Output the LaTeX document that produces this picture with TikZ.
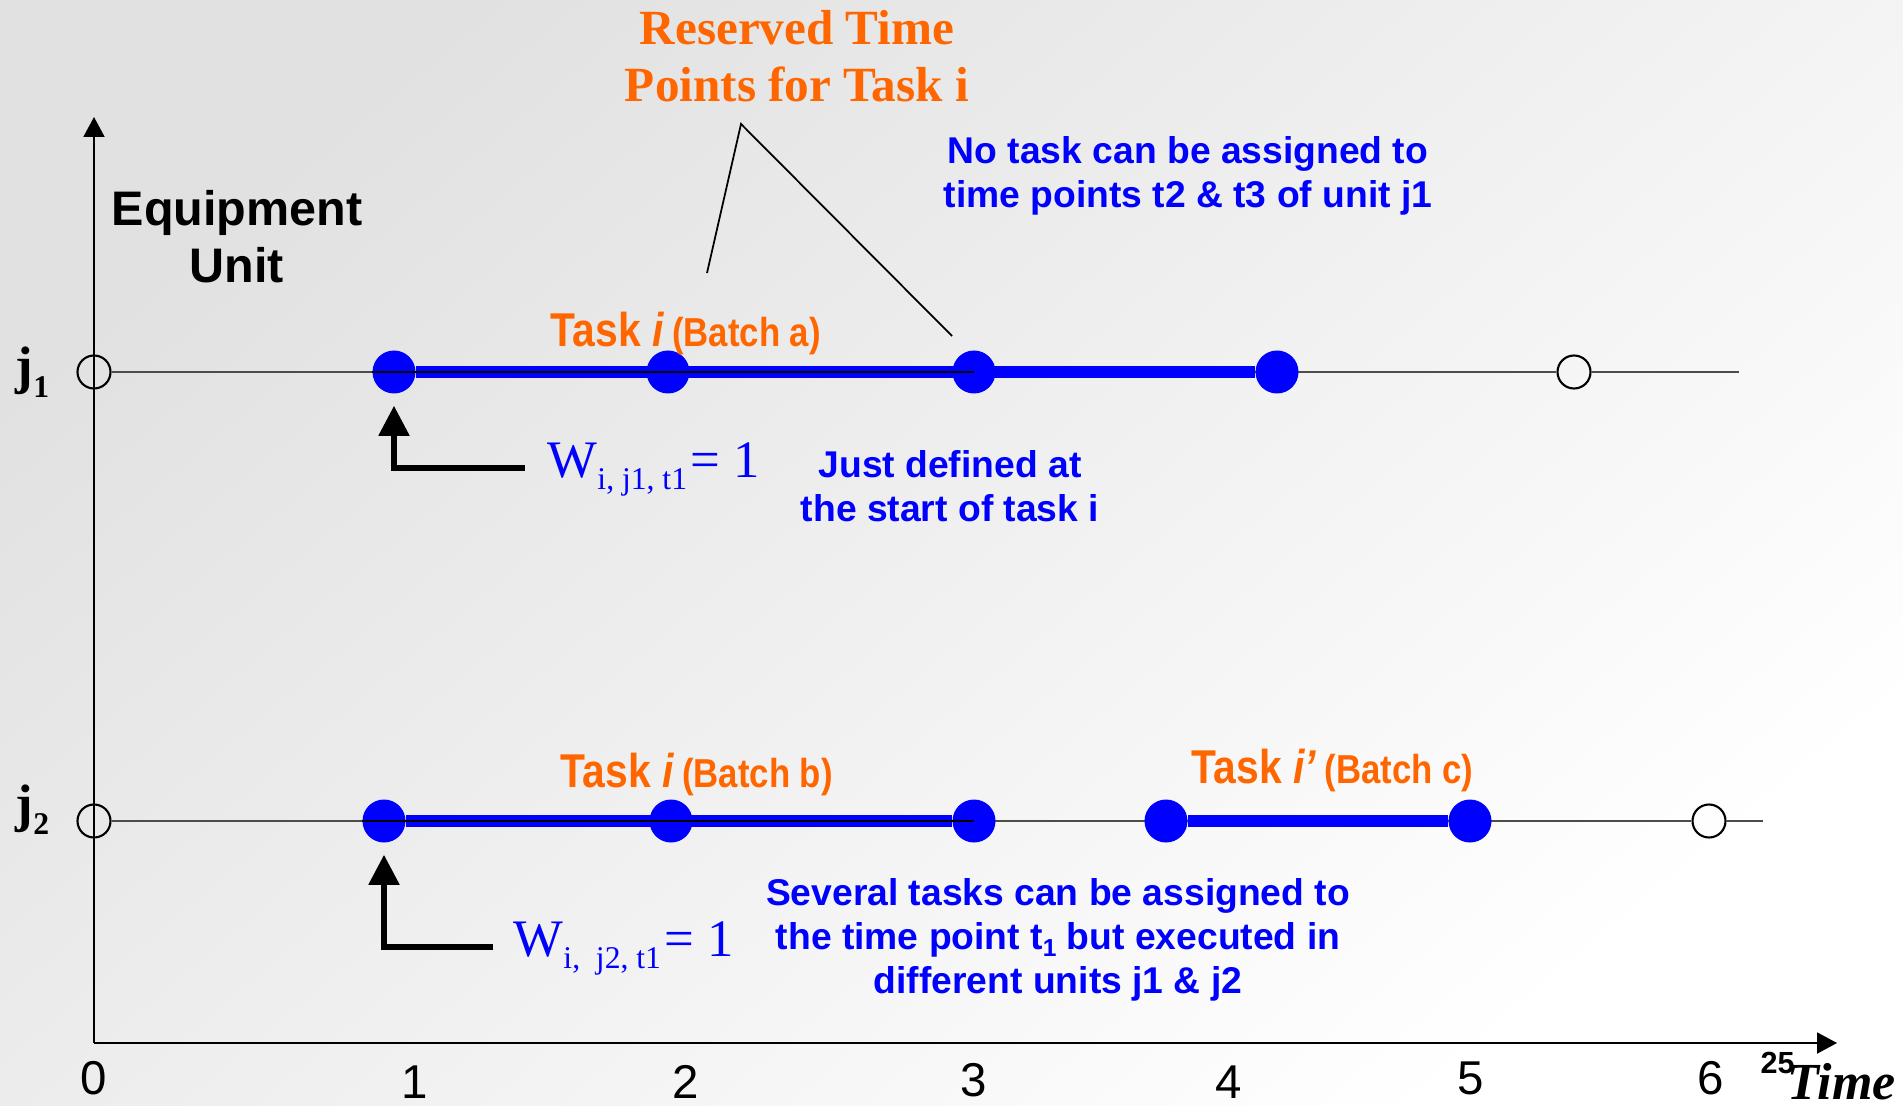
\documentclass[tikz,border=0pt]{standalone}
\usepackage{fontspec}
\setmainfont{Liberation Serif}
\setsansfont{Liberation Sans}
\newfontfamily\narrowsf[FakeStretch=0.86]{Liberation Sans}
\usepackage{tikz}
\usetikzlibrary{arrows.meta}
\definecolor{tlblue}{RGB}{0,0,255}
\definecolor{tlorange}{RGB}{255,102,0}
\definecolor{tlback}{RGB}{225,225,225}
\newcommand{\rowA}{7.33}
\newcommand{\rowB}{2.84}
\tikzset{
  bdot/.style   ={circle,draw=none,fill=tlblue,inner sep=0pt,minimum size=0.43cm},
  odot/.style   ={circle,draw=black,line width=0.6pt,inner sep=0pt,minimum size=0.33cm},
  tline/.style  ={line width=0.5pt,black},
  rline/.style  ={line width=0.5pt,black!70},
  bbar/.style   ={line width=3.6pt,tlblue},
  axarr/.style  ={line width=0.55pt,-{Triangle[length=0.2cm,width=0.21cm]}},
  callarr/.style={line width=1.5pt,-{Triangle[length=0.3cm,width=0.3cm]},shorten >=3.3pt},
  bnote/.style  ={text=tlblue,inner sep=0pt,align=center,font=\sffamily\bfseries\fontsize{10.6}{12.5}\selectfont},
  onote/.style  ={text=tlorange,inner sep=0pt,align=center,font=\bfseries\fontsize{14}{16.2}\selectfont},
  knote/.style  ={inner sep=0pt,align=center,font=\sffamily\bfseries\fontsize{13.8}{16.2}\selectfont},
  tasklab/.style={text=tlorange,inner sep=0pt,anchor=base west},
  wlab/.style   ={text=tlblue,inner sep=0pt,anchor=base west,font=\fontsize{15}{15}\selectfont},
  jlab/.style   ={inner sep=0pt,anchor=base west,font=\bfseries\fontsize{15}{15}\selectfont},
  tnum/.style   ={inner sep=0pt,anchor=base,font=\sffamily\fontsize{13.5}{13.5}\selectfont},
}
\newcommand{\tasktxt}[2]{{\narrowsf\bfseries\fontsize{13.5}{13.5}\selectfont Task {\itshape #1}} {\narrowsf\bfseries\fontsize{11.5}{11.5}\selectfont(Batch #2)}}
\newcommand{\wsub}[1]{\raisebox{-3.5pt}{\fontsize{9}{9}\selectfont #1}}
\newcommand{\jsub}[1]{\raisebox{-3.7pt}{\fontsize{9}{9}\selectfont #1}}

\begin{document}
\begin{tikzpicture}
  \useasboundingbox (0,0) rectangle (19.03,11.05);
  \shade[top color=tlback,bottom color=white,shading angle=40] (0,0) rectangle (19.03,11.05);

  % axes
  \coordinate (org) at (0.94,0.62);
  \coordinate (ytop) at (0.94,9.88);
  \coordinate (xend) at (18.37,0.62);
  \draw[axarr] (org) -- (ytop);
  \draw[axarr] (org) -- (xend);

  % unit j1
  \node[odot] (oa0) at (0.94,\rowA) {};
  \node[odot] (oa6) at (15.74,\rowA) {};
  \coordinate (ea) at (17.39,\rowA);
  \draw[rline] (oa0) -- (oa6);
  \draw[rline] (oa6) -- (ea);
  \node[bdot] (a1) at (3.94,\rowA) {};
  \node[bdot] (a2) at (6.68,\rowA) {};
  \node[bdot] (a3) at (9.74,\rowA) {};
  \node[bdot] (a4) at (12.77,\rowA) {};
  \draw[bbar] (a1) -- (a4);
  \draw[tline] (a1.west) -- (a3.center);

  % unit j2
  \node[odot] (ob0) at (0.94,\rowB) {};
  \node[odot] (ob6) at (17.09,\rowB) {};
  \coordinate (eb) at (17.63,\rowB);
  \draw[rline] (ob0) -- (ob6);
  \draw[rline] (ob6) -- (eb);
  \node[bdot] (b1) at (3.84,\rowB) {};
  \node[bdot] (b2) at (6.71,\rowB) {};
  \node[bdot] (b3) at (9.74,\rowB) {};
  \node[bdot] (b4) at (11.66,\rowB) {};
  \node[bdot] (b5) at (14.70,\rowB) {};
  \draw[bbar] (b1) -- (b3);
  \draw[bbar] (b4) -- (b5);
  \draw[tline] (b1.west) -- (b3.center);

  \node[jlab] (ja) at (0.15,7.21) {j\jsub{1}};
  \node[jlab] (jb) at (0.15,2.84) {j\jsub{2}};
  \node[knote] (equ) at (2.37,8.68) {Equipment\\Unit};

  % reserved points
  \node[onote] (res) at (7.97,10.49) {Reserved Time\\Points for Task i};
  \coordinate (rtop) at (7.41,9.81);
  \coordinate (rleft) at (7.07,8.32);
  \coordinate (rright) at (9.52,7.69);
  \draw[tline] (rleft) -- (rtop) -- (rright);

  \node[tasklab] (ta) at (5.50,7.58) {\tasktxt{i}{a}};
  \node[tasklab] (tb) at (5.60,3.18) {\tasktxt{i}{b}};
  \node[tasklab] (tc) at (11.91,3.22) {\tasktxt{i’}{c}};

  % W callouts
  \coordinate (wa) at (5.25,6.37);
  \coordinate (wb) at (4.93,1.58);
  \draw[callarr] (wa) -| (a1);
  \draw[callarr] (wb) -| (b1);
  \node[wlab] (wla) at (5.47,6.28) {W\wsub{i, j1, t1}\hspace{1pt}= 1};
  \node[wlab] (wlb) at (5.13,1.49) {W\wsub{i,\ \ j2, t1}\hspace{1pt}= 1};

  \node[bnote] (na) at (11.88,9.29) {No task can be assigned to\\time points t2 \& t3 of unit j1};
  \node[bnote] (nb) at (9.50,6.19) {Just defined at\\the start of task i};
  \node[bnote] (nc) at (10.58,1.65) {Several tasks can be assigned to\\the time point t\raisebox{-2pt}{\fontsize{7}{7}\selectfont 1} but executed in\\different units j1 \& j2};

  % time axis
  \node[tnum] (t0) at (0.94,0.11) {0};
  \node[tnum] (t1) at (4.15,0.07) {1};
  \node[tnum] (t2) at (6.86,0.07) {2};
  \node[tnum] (t3) at (9.74,0.09) {3};
  \node[tnum] (t4) at (12.29,0.07) {4};
  \node[tnum] (t5) at (14.71,0.11) {5};
  \node[tnum] (t6) at (17.11,0.11) {6};
  \node[inner sep=0pt,anchor=base west,font=\sffamily\bfseries\fontsize{8.7}{8.7}\selectfont] (pg) at (17.60,0.32) {25};
  \node[inner sep=0pt,anchor=base west,font=\bfseries\itshape\fontsize{14.8}{14.8}\selectfont] (tm) at (17.87,0.06) {Time};
\end{tikzpicture}
\end{document}
